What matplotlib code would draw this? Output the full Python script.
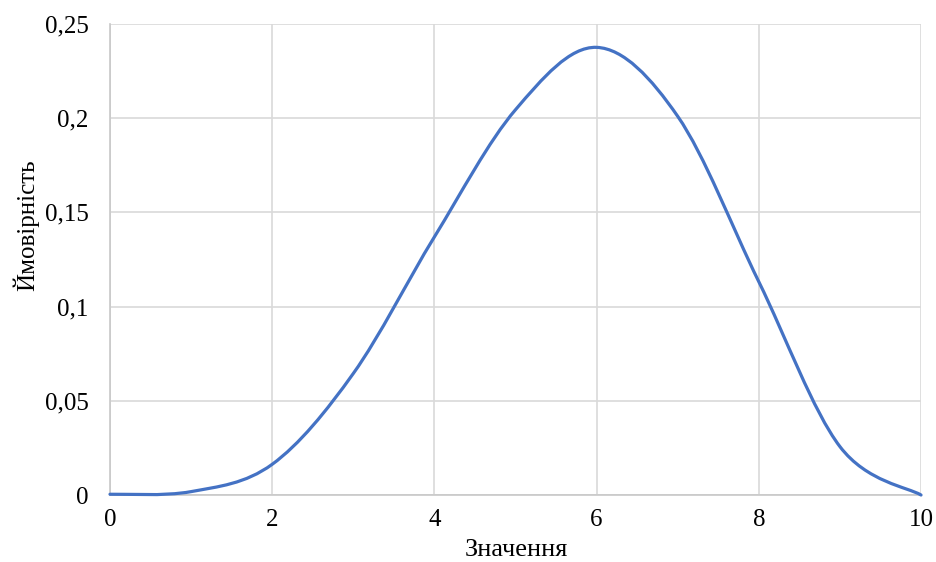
import numpy as np
import matplotlib.pyplot as plt
from matplotlib.path import Path
from matplotlib.patches import PathPatch

plt.rcParams['font.family'] = ['Liberation Serif', 'DejaVu Serif']

# values
x_vals = [0, 1, 2, 3, 4, 5, 6, 7, 8, 9, 10]
y_vals = [0.0004, 0.0018, 0.0163, 0.0645, 0.137, 0.2045, 0.2376, 0.201, 0.1132, 0.0257, 0.0]
x_ticks = [0, 2, 4, 6, 8, 10]
y_ticks = [0, 0.05, 0.1, 0.15, 0.2, 0.25]
y_tick_labels = ['0', '0,05', '0,1', '0,15', '0,2', '0,25']


def smooth_path(xs, ys):
    # Excel-style smoothed line: cubic Bezier through each point
    pts = np.column_stack([xs, ys])
    n = len(pts)
    verts = [pts[0]]
    codes = [Path.MOVETO]
    for i in range(n - 1):
        p0 = pts[i - 1] if i > 0 else pts[i]
        p1 = pts[i]
        p2 = pts[i + 1]
        p3 = pts[i + 2] if i + 2 < n else pts[i + 1]
        c1 = p1 + (p2 - p0) / 6
        c2 = p2 - (p3 - p1) / 6
        verts += [c1, c2, p2]
        codes += [Path.CURVE4] * 3
    return Path(verts, codes)


fig = plt.figure(figsize=(9.36, 5.62), dpi=100)
ax = fig.add_axes([0.1175, 0.1192, 0.8665, 0.8381])

patch = PathPatch(smooth_path(x_vals, y_vals), facecolor='none',
                  edgecolor='#4472C4', linewidth=2.3, capstyle='round',
                  zorder=3, clip_on=False)
ax.add_patch(patch)

ax.set_xlim(0, 10)
ax.set_ylim(0, 0.25)
ax.set_xticks(x_ticks)
ax.set_yticks(y_ticks)
ax.set_yticklabels(y_tick_labels)
ax.tick_params(length=0, labelsize=18, colors='black')
ax.tick_params(axis='x', pad=10)
ax.tick_params(axis='y', pad=15.5)

ax.grid(True, color='#D9D9D9', linewidth=1.2)
ax.set_axisbelow(True)
for side in ['top', 'right']:
    ax.spines[side].set_visible(False)
for side in ['left', 'bottom']:
    ax.spines[side].set_color('#C8C8C8')
    ax.spines[side].set_linewidth(1.2)

# axis titles placed like the Excel chart
fig.text(516 / 936, 1 - 550 / 562, 'Значення', fontsize=19,
         ha='center', va='center')
fig.text(26 / 936, 1 - 225 / 562, 'Ймовірність', fontsize=18,
         ha='center', va='center', rotation=90)

fig.savefig('out.png', dpi=100)
